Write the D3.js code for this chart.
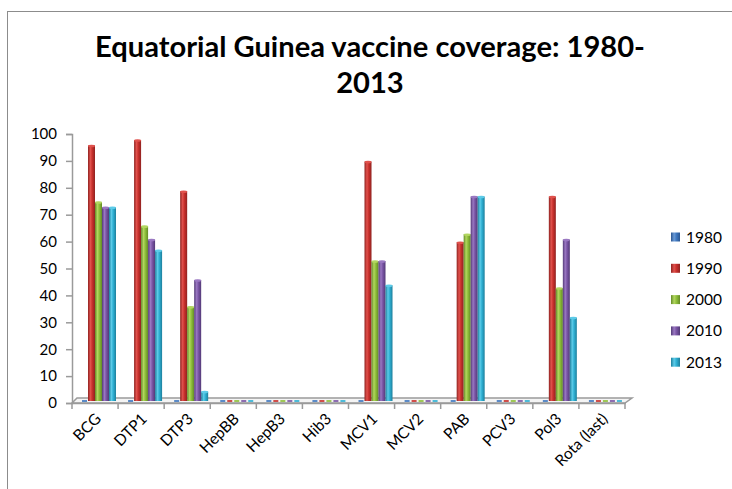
<!DOCTYPE html>
<html><head><meta charset="utf-8">
<script src="https://cdn.jsdelivr.net/npm/d3@7"></script>
<style>body{margin:0;background:#fff;} svg{display:block;}</style>
</head><body>
<svg id="chart" width="732" height="489"></svg>
<script>
const categories = ["BCG","DTP1","DTP3","HepBB","HepB3","Hib3","MCV1","MCV2","PAB","PCV3","Pol3","Rota (last)"];
const years = ["1980","1990","2000","2010","2013"];
const v1980 = [0,0,0,0,0,0,0,0,0,0,0,0];
const v1990 = [95,97,78,0,0,0,89,0,59,0,76,0];
const v2000 = [74,65,35,0,0,0,52,0,62,0,42,0];
const v2010 = [72,60,45,0,0,0,52,0,76,0,60,0];
const v2013 = [72,56,3.5,0,0,0,43,0,76,0,31,0];
const seriesValues = [v1980,v1990,v2000,v2010,v2013];
const yTicks = [0,10,20,30,40,50,60,70,80,90,100];
const colors = ["#3f78c0","#c9302c","#8fbf3a","#7a55a5","#2fb0d3"];
const edgeColors = ["#2a5590","#8f2220","#628a26","#533a77","#1d7f9c"];
const lightColors = ["#6a9ad6","#e0524d","#b2d660","#9a78c2","#5dcbe8"];

const svg = d3.select("#chart");
const font = "Lato, 'Open Sans', sans-serif";

// outer border
svg.append("rect").attr("x",7.5).attr("y",11.5).attr("width",740).attr("height",500)
  .attr("fill","none").attr("stroke","#8c8c8c").attr("stroke-width",1);

// title
const t1 = svg.append("text").attr("x",370).attr("y",57).attr("text-anchor","middle")
  .attr("font-family",font).attr("font-weight","bold").attr("font-size",27).attr("fill","#000")
  .text("Equatorial Guinea vaccine coverage: 1980-");
const w = t1.node().getComputedTextLength();
const fs = 27*550/w;
t1.attr("font-size",fs);
svg.append("text").attr("x",370).attr("y",93).attr("text-anchor","middle")
  .attr("font-family",font).attr("font-weight","bold").attr("font-size",fs).attr("fill","#000")
  .text("2013");

const x0 = 72, x1 = 625, yBase = 403, yTop = 134;
const dx = 5, dy = 5; // depth
const x = d3.scaleBand().domain(categories).range([x0,x1]);
const y = d3.scaleLinear().domain([0,100]).range([yBase,yTop]);
const xs = d3.scaleBand().domain(years).range([0,35]);

// defs gradients
const defs = svg.append("defs");
years.forEach((yr,i)=>{
  const g = defs.append("linearGradient").attr("id","g"+i).attr("x1","0").attr("x2","1").attr("y1","0").attr("y2","0");
  g.append("stop").attr("offset","0").attr("stop-color",edgeColors[i]);
  g.append("stop").attr("offset","0.35").attr("stop-color",lightColors[i]);
  g.append("stop").attr("offset","0.6").attr("stop-color",colors[i]);
  g.append("stop").attr("offset","1").attr("stop-color",edgeColors[i]);
});

// y axis
const yAxis = d3.axisLeft(y).tickValues(yTicks).tickSize(6).tickPadding(9);
const ya = svg.append("g").attr("transform",`translate(${x0},0)`).call(yAxis);
ya.select(".domain").attr("stroke","#9a9a9a").attr("stroke-width",1.5);
ya.selectAll(".tick line").attr("stroke","#9a9a9a").attr("stroke-width",1.5);
ya.selectAll("text").attr("font-family",font).attr("font-size",15).attr("fill","#000");

// floor
const floorPts = [[x0,yBase],[x1,yBase],[x1+dx+2,yBase-dy],[x0+dx,yBase-dy]];
svg.append("polygon").attr("points",floorPts.map(p=>p.join(",")).join(" "))
  .attr("fill","#f4f4f4").attr("stroke","#9a9a9a").attr("stroke-width",1.5);

// x axis ticks
const xa = d3.axisBottom(x).tickSize(0).tickFormat("");
const xg = svg.append("g").attr("transform",`translate(0,${yBase})`).call(xa);
xg.select(".domain").attr("stroke","#9a9a9a").attr("stroke-width",1.5);
xg.selectAll(".tick").remove();
const bounds = categories.map((c)=>x(c)).concat([x1]);
xg.selectAll("line.b").data(bounds).enter().append("line").attr("class","b")
  .attr("x1",d=>d).attr("x2",d=>d).attr("y1",0).attr("y2",6)
  .attr("stroke","#9a9a9a").attr("stroke-width",1.5);

// x labels (rotated)
const lab = svg.append("g").selectAll("g").data(categories).enter().append("g")
  .attr("transform",c=>`translate(${x(c)+x.bandwidth()/2+3},${yBase+13})`);
lab.append("text")
  .attr("transform","rotate(-45)")
  .attr("text-anchor","end").attr("dy","0.35em")
  .attr("font-family",font).attr("font-size",15.5).attr("fill","#000")
  .text(c=>c);

// bars
const barBase = yBase-2;
const bars = svg.append("g");
categories.forEach((c,ci)=>{
  years.forEach((yr,si)=>{
    const v = seriesValues[si][ci];
    const bx = x(c)+9+xs(yr);
    const bw = xs.bandwidth();
    if (v<=0){
      bars.append("rect").attr("x",bx+1).attr("y",barBase-1).attr("width",bw-2).attr("height",2)
        .attr("fill",colors[si]).attr("opacity",0.85);
    } else {
      const top = y(v) - (yBase-barBase);
      bars.append("rect").attr("x",bx).attr("y",top).attr("width",bw).attr("height",barBase-top)
        .attr("fill",`url(#g${si})`);
      bars.append("ellipse").attr("cx",bx+bw/2).attr("cy",top+0.5).attr("rx",bw/2).attr("ry",1.3)
        .attr("fill",lightColors[si]);
    }
  });
});

// legend
const lg = svg.append("g");
years.forEach((yr,i)=>{
  const cy = 237 + i*31.3;
  lg.append("rect").attr("x",671).attr("y",cy-4.5).attr("width",9).attr("height",9)
    .attr("fill",`url(#g${i})`);
  lg.append("text").attr("x",686).attr("y",cy+5.5).attr("font-family",font).attr("font-size",15.5)
    .attr("fill","#000").text(yr);
});
</script>
</body></html>
